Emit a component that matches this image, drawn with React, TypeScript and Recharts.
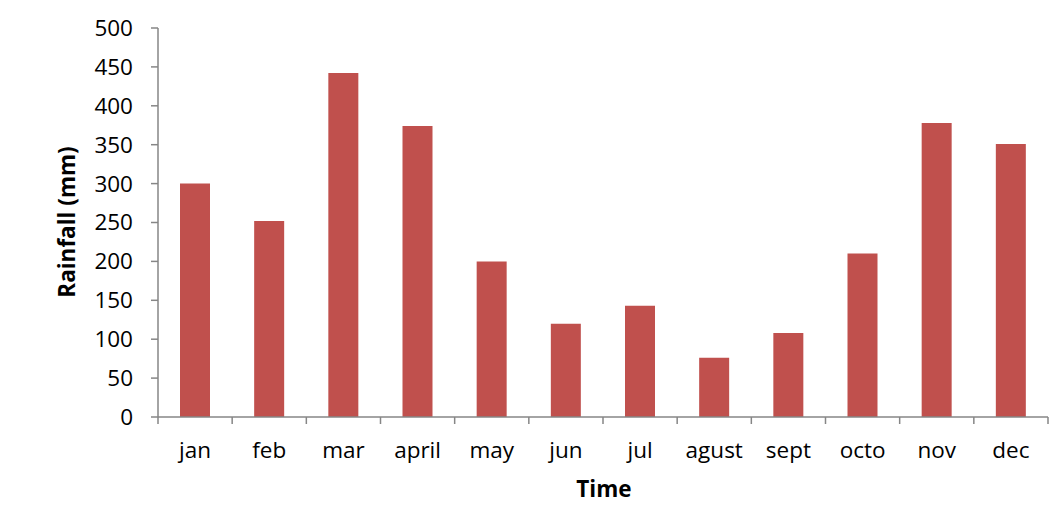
import React from "react";
import { BarChart, Bar, XAxis, YAxis } from "recharts";

const months = ["jan", "feb", "mar", "april", "may", "jun", "jul", "agust", "sept", "octo", "nov", "dec"];
const rainfall = [300, 252, 442, 374, 200, 120, 143, 76, 108, 210, 378, 351];
const yTicks = [0, 50, 100, 150, 200, 250, 300, 350, 400, 450, 500];

const data = months.map((m, i) => ({ month: m, rainfall: rainfall[i] }));

const FONT = "'Open Sans', sans-serif";
const AXIS = "#868686";
const BAND = (1048 - 158) / months.length;

// category tick: label centered, tick marks at the band edges
function MonthTick(props: any) {
  const { x, y, payload, index } = props;
  const left = x - BAND / 2;
  const top = y - 18;
  return (
    <g>
      <line x1={left} y1={top - 7} x2={left} y2={top} stroke={AXIS} strokeWidth={1.5} />
      {index === months.length - 1 && (
        <line x1={x + BAND / 2} y1={top - 7} x2={x + BAND / 2} y2={top} stroke={AXIS} strokeWidth={1.5} />
      )}
      <text x={x} y={y} dy="0.71em" textAnchor="middle" fill="#000" style={{ fontSize: 22.5, fontFamily: FONT }}>
        {payload.value}
      </text>
    </g>
  );
}

export default function App() {
  return (
    <div style={{ position: "absolute", left: 0, top: 0, width: 1055, height: 530, background: "#fff" }}>
      <BarChart
        width={1055}
        height={530}
        data={data}
        margin={{ top: 28, right: 7, bottom: 53, left: 0 }}
        style={{ fontFamily: FONT }}
      >
        <XAxis
          dataKey="month"
          height={60}
          stroke={AXIS}
          strokeWidth={1.5}
          tickLine={false}
          tickSize={7}
          tickMargin={18}
          tick={<MonthTick />}
          interval={0}
        />
        <YAxis
          width={158}
          domain={[0, 500]}
          ticks={yTicks}
          stroke={AXIS}
          strokeWidth={1.5}
          tickSize={7}
          tickMargin={18}
          tick={{ fill: "#000", fontSize: 22.5, fontFamily: FONT }}
        />
        <Bar dataKey="rainfall" fill="#C0504D" barSize={30} isAnimationActive={false} />
        <text
          x={69}
          y={222}
          transform="rotate(-90 69 222)"
          textAnchor="middle"
          dominantBaseline="middle"
          style={{ fontSize: 22.5, fontWeight: 700, fontFamily: FONT, fill: "#000" }}
        >
          Rainfall (mm)
        </text>
        <text
          x={604}
          y={491}
          textAnchor="middle"
          dominantBaseline="middle"
          style={{ fontSize: 22.5, fontWeight: 700, fontFamily: FONT, fill: "#000" }}
        >
          Time
        </text>
      </BarChart>
    </div>
  );
}
